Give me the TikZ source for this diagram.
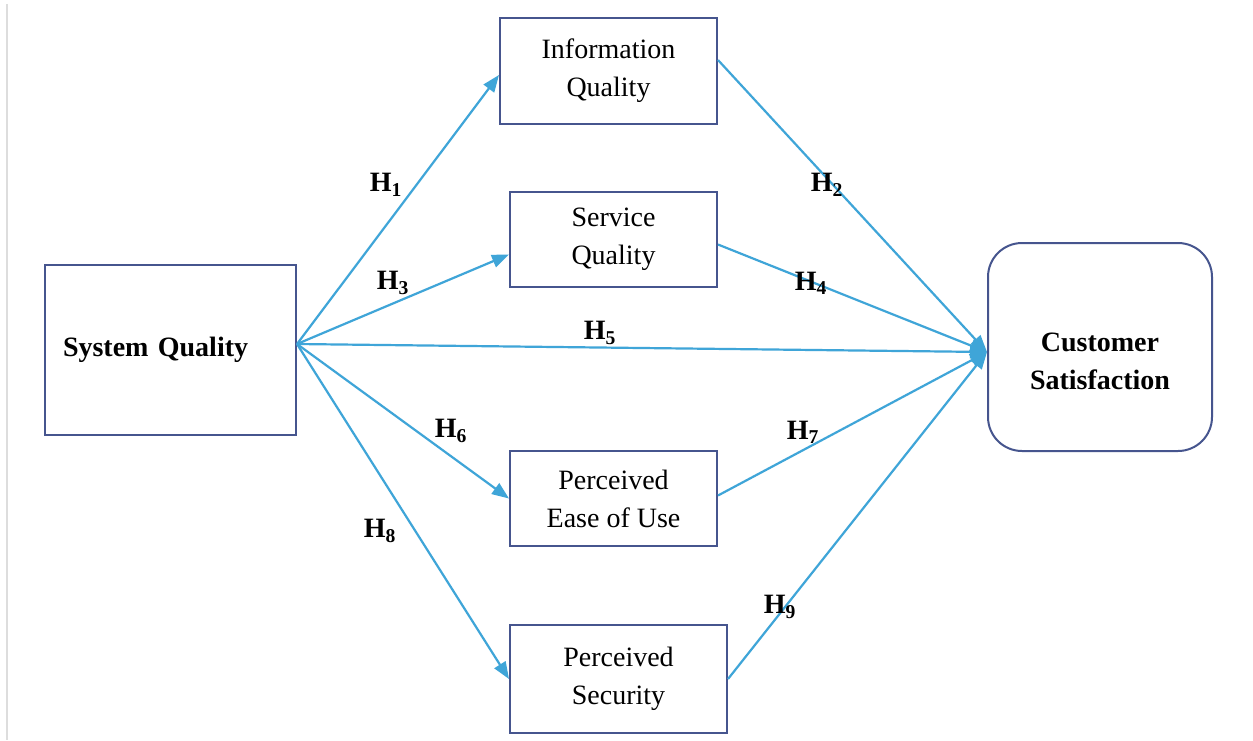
\documentclass[tikz,border=0pt]{standalone}
\usepackage{fontspec}
\setmainfont{Liberation Serif}
\usetikzlibrary{arrows.meta}
\begin{document}
\begin{tikzpicture}[x=1pt,y=-1pt,font=\fontsize{28}{38}\selectfont]
\definecolor{frame}{HTML}{46558E}\definecolor{linkblue}{HTML}{3FA5D8}
\definecolor{margin}{HTML}{DDDDDD}
\tikzset{box/.style={draw=frame,line width=2pt,align=center,inner sep=0pt},
  link/.style={draw=linkblue,line width=2.2pt,-{Triangle[length=17pt,width=13pt]}},
  hyp/.style={font=\fontsize{28}{38}\selectfont\bfseries}}
\useasboundingbox[fill=white] (0,0) rectangle (1253,740);
\draw[margin,line width=1.5pt] (7,4) -- (7,740);
% constructs
\node[box,text width=215pt,inner xsep=18pt,minimum height=170pt,align=left,font=\fontsize{28}{38}\selectfont\bfseries] (sys) at (170.5,350) {System Quality};
\node[box,minimum width=217pt,minimum height=106pt] (info) at (608.5,71) {Information\\Quality};
\node[box,minimum width=207pt,minimum height=95pt] (serv) at (613.5,239.5) {Service\\Quality};
\node[box,minimum width=207pt,minimum height=95pt] (ease) at (613.5,498.5) {Perceived\\Ease of Use};
\node[box,minimum width=217pt,minimum height=108pt] (secu) at (618.5,679) {Perceived\\Security};
\node[box,rounded corners=34pt,minimum width=224pt,minimum height=208pt] (cust) at (1100,347) {};
\node[align=center,font=\fontsize{28}{38}\selectfont\bfseries] (custtext) at (1100,361) {Customer\\Satisfaction};
% hypothesised paths
\coordinate (src) at ([yshift=6pt]sys.east);
\coordinate (dst) at ([yshift=-5pt]cust.west);
\draw[link] (src) -- ([yshift=-4pt]info.west);
\draw[link] (src) -- ([yshift=-15pt]serv.west);
\draw[link] (src) -- (dst);
\draw[link] (src) -- (ease.west);
\draw[link] (src) -- (secu.west);
\draw[link] ([yshift=11pt]info.east) -- (dst);
\draw[link] ([yshift=-5pt]serv.east) -- (dst);
\draw[link] ([yshift=3pt]ease.east) -- (dst);
\draw[link] (secu.east) -- (dst);
% labels
\node[hyp] (h1) at (386,185) {H\textsubscript{1}};
\node[hyp] (h2) at (827,185) {H\textsubscript{2}};
\node[hyp] (h3) at (393,283) {H\textsubscript{3}};
\node[hyp] (h4) at (811,283) {H\textsubscript{4}};
\node[hyp] (h5) at (600,333) {H\textsubscript{5}};
\node[hyp] (h6) at (451,431) {H\textsubscript{6}};
\node[hyp] (h7) at (803,432) {H\textsubscript{7}};
\node[hyp] (h8) at (380,531) {H\textsubscript{8}};
\node[hyp] (h9) at (780,607) {H\textsubscript{9}};
\end{tikzpicture}
\end{document}
